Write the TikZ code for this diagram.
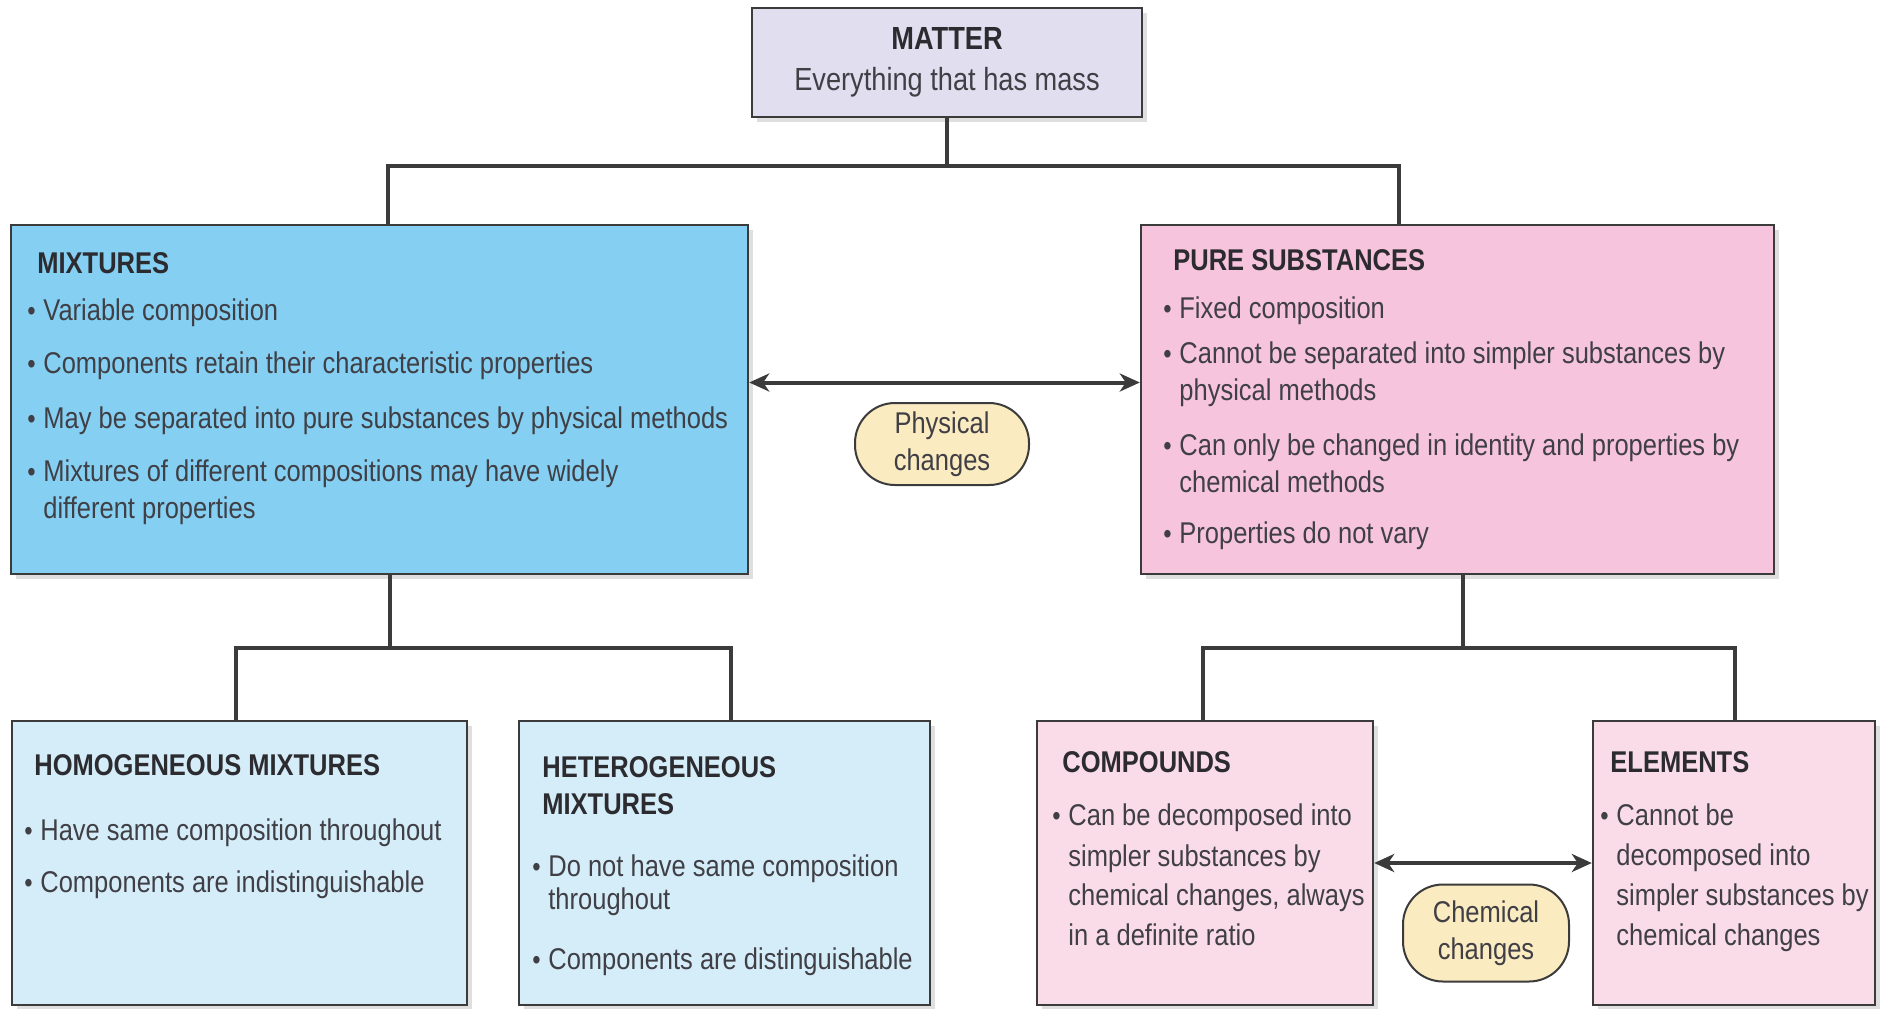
\documentclass[tikz,border=0pt]{standalone}
\usepackage{fontspec}
\setmainfont{Liberation Sans}[FakeStretch=0.85]
\usetikzlibrary{shadows,arrows.meta}
\definecolor{matfill}{HTML}{E1DEEF}
\definecolor{mixfill}{HTML}{84CFF2}
\definecolor{purefill}{HTML}{F7C4DE}
\definecolor{mixlight}{HTML}{D5EDF9}
\definecolor{purelight}{HTML}{FADCE8}
\definecolor{bubfill}{HTML}{FBEBC1}
\definecolor{linecol}{HTML}{3B3B3B}
\definecolor{txtcol}{HTML}{3F3F45}
\definecolor{ttlcol}{HTML}{2B2B30}
\newcommand\blt{\makebox[8pt][l]{\fontsize{14}{14}\selectfont\textbullet}}
\newcommand\hng{\hspace*{8pt}}
\newcommand\ttl[1]{\hspace*{5pt}\textbf{\color{ttlcol}#1}}
\begin{document}
\begin{tikzpicture}[>={Stealth[length=10pt,width=9pt,inset=3pt]},x=0.5pt,y=-0.5pt,
	box/.style={draw=linecol,line width=1.2pt,drop shadow={shadow xshift=2.5pt,shadow yshift=-2.5pt,opacity=0.25}},
	txt/.style={anchor=north west,inner sep=0pt,align=left,text=txtcol,font=\fontsize{15}{18.5}\selectfont},
	bubble/.style={draw=linecol,line width=1pt,fill=bubfill,rounded corners=20pt,align=center,text=txtcol,font=\fontsize{15}{18.5}\selectfont},
	conn/.style={draw=linecol,line width=2pt}]
	\useasboundingbox (0,0) rectangle (1885,1008);
	\node[box,fill=matfill,minimum width=195pt,minimum height=54.5pt,align=center,text=txtcol,font=\fontsize{16}{20.5}\selectfont] (matter) at (947,62.5) {\textbf{\color{ttlcol}MATTER}\\Everything that has mass};
	\node[box,fill=mixfill,minimum width=368.5pt,minimum height=174.5pt] (mix) at (379.5,399.5) {};
	\node[box,fill=purefill,minimum width=316.5pt,minimum height=174.5pt] (pure) at (1457.5,399.5) {};
	\node[box,fill=mixlight,minimum width=227.5pt,minimum height=142pt] (homo) at (239.5,863) {};
	\node[box,fill=mixlight,minimum width=205.5pt,minimum height=142pt] (hetero) at (724.5,863) {};
	\node[box,fill=purelight,minimum width=168pt,minimum height=142pt] (comp) at (1205,863) {};
	\node[box,fill=purelight,minimum width=141pt,minimum height=142pt] (elem) at (1734,863) {};
	\node[bubble,minimum width=87pt,minimum height=41pt] (phys) at (942,444) {Physical\\changes};
	\node[bubble,minimum width=83pt,minimum height=48.5pt] (chem) at (1486,933) {Chemical\\changes};
	\node[txt] (mixt) at (27,252) {\ttl{MIXTURES}\\[5pt]
		\blt Variable composition\\[8pt]
		\blt Components retain their characteristic properties\\[9pt]
		\blt May be separated into pure substances by physical methods\\[8pt]
		\blt Mixtures of different compositions may have widely\\
		\hng different properties};
	\node[txt] (puret) at (1163,249) {\ttl{PURE SUBSTANCES}\\[5.5pt]
		\blt Fixed composition\\[4pt]
		\blt Cannot be separated into simpler substances by\\
		\hng physical methods\\[9pt]
		\blt Can only be changed in identity and properties by\\
		\hng chemical methods\\[7pt]
		\blt Properties do not vary};
	\node[txt] (homot) at (24,754) {\ttl{HOMOGENEOUS MIXTURES}\\[14pt]
		\blt Have same composition throughout\\[7.5pt]
		\blt Components are indistinguishable};
	\node[txt] (heterot) at (532,756) {\ttl{HETEROGENEOUS}\\
		\ttl{MIXTURES}\\[12.5pt]
		\blt Do not have same composition\\[-2pt]
		\hng throughout\\[11.5pt]
		\blt Components are distinguishable};
	\node[txt] (compt) at (1052,751) {\ttl{COMPOUNDS}\\[8pt]
		\blt Can be decomposed into\\[2pt]
		\hng simpler substances by\\[1pt]
		\hng chemical changes, always\\[1.5pt]
		\hng in a definite ratio};
	\node[txt] (elemt) at (1600,751) {\ttl{ELEMENTS}\\[8pt]
		\blt Cannot be\\[1.5pt]
		\hng decomposed into\\[1.5pt]
		\hng simpler substances by\\[1.5pt]
		\hng chemical changes};
	\coordinate (a1) at (388,166);
	\coordinate (a2) at (1399,166);
	\draw[conn] (matter) -- (matter |- a1);
	\draw[conn] (a1 |- mix.north) -- (a1) -- (a2) -- (a2 |- pure.north);
	\coordinate (b0) at (390,648);
	\coordinate (b1) at (236,648);
	\coordinate (b2) at (731,648);
	\draw[conn] (b0 |- mix.south) -- (b0);
	\draw[conn] (b1 |- homo.north) -- (b1) -- (b2) -- (b2 |- hetero.north);
	\coordinate (c0) at (1463,648);
	\coordinate (c1) at (1203,648);
	\coordinate (c2) at (1735,648);
	\draw[conn] (c0 |- pure.south) -- (c0);
	\draw[conn] (c1 |- comp.north) -- (c1) -- (c2) -- (c2 |- elem.north);
	\draw[conn,<->] ([yshift=8.5pt]mix.east) -- ([yshift=8.5pt]pure.west);
	\draw[conn,<->] (comp) -- (elem);
\end{tikzpicture}
\end{document}
